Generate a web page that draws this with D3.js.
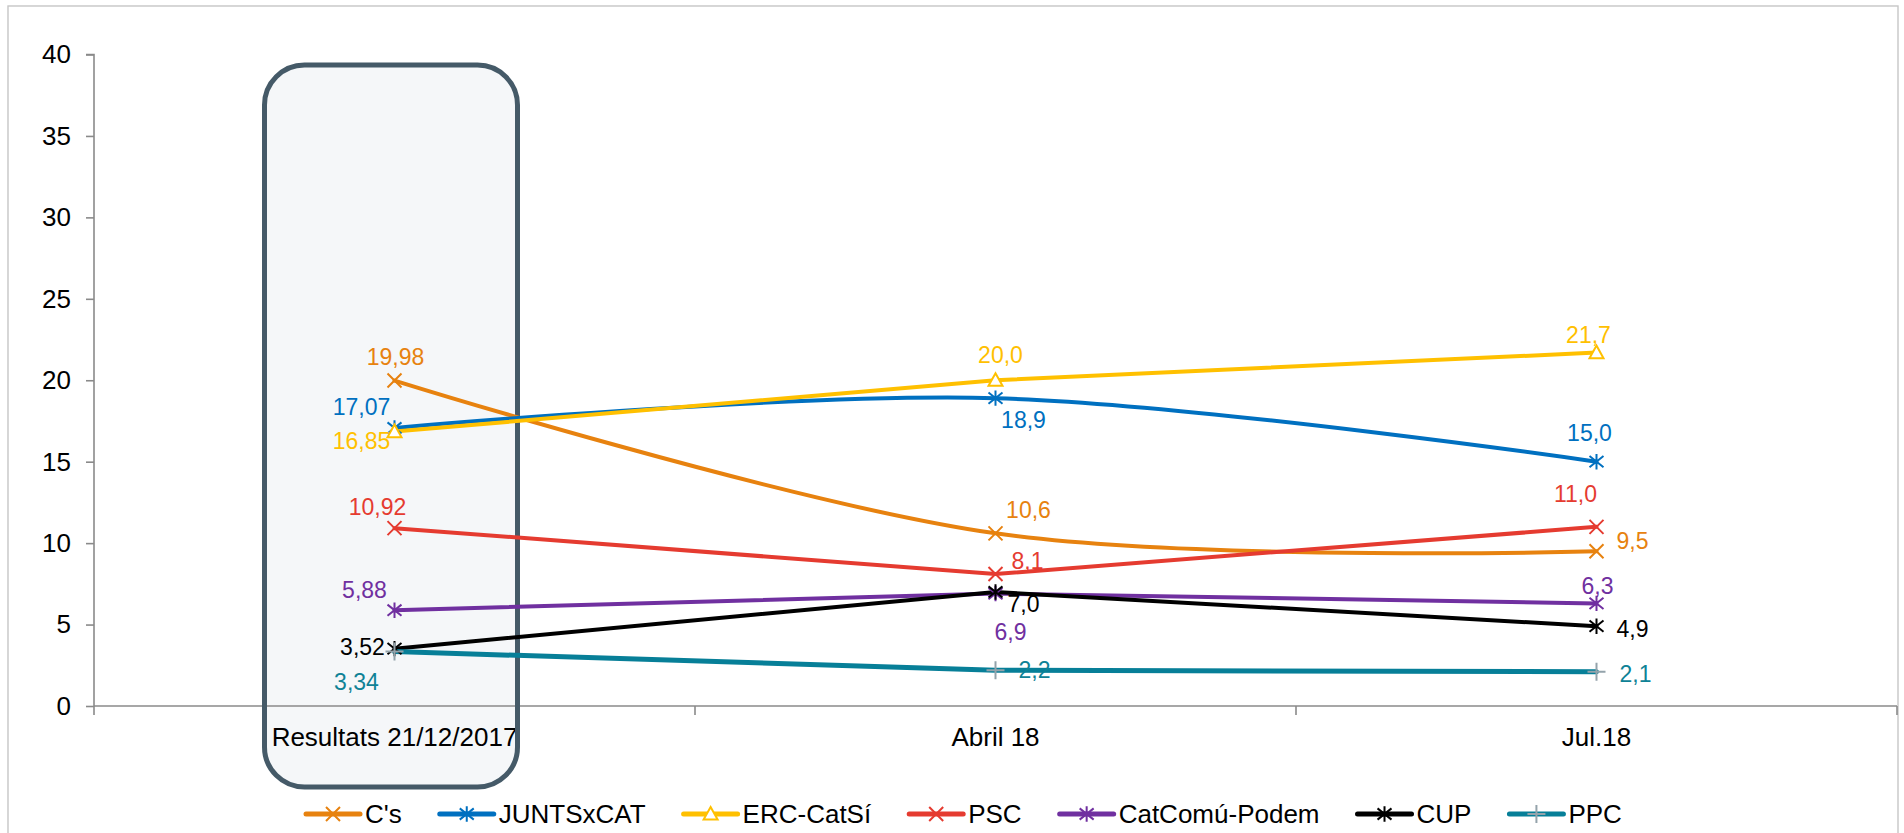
<!DOCTYPE html>
<html><head><meta charset="utf-8">
<script src="https://cdn.jsdelivr.net/npm/d3@7"></script>
<style>
body{margin:0;background:#fff;overflow:hidden;}
svg{display:block;font-family:"Liberation Sans",Arial,Helvetica,sans-serif;}
</style>
</head><body><svg id="chart" width="1904" height="833"></svg>
<script>
// ---------- DATA ----------
const categories = ["Resultats 21/12/2017", "Abril 18", "Jul.18"];
const seriesNames = ["C's", "JUNTSxCAT", "ERC-CatSí", "PSC", "CatComú-Podem", "CUP", "PPC"];
const csValues      = [19.98, 10.6, 9.5];
const juntsValues   = [17.07, 18.9, 15.0];
const ercValues     = [16.85, 20.0, 21.7];
const pscValues     = [10.92, 8.1, 11.0];
const catcomuValues = [5.88, 6.9, 6.3];
const cupValues     = [3.52, 7.0, 4.9];
const ppcValues     = [3.34, 2.2, 2.1];
const labelDecimals = [2, 1, 1];
const yTicks = [0, 5, 10, 15, 20, 25, 30, 35, 40];

// ---------- STYLES ----------
const seriesColors = ["#e7820f", "#0070c0", "#ffc000", "#e53b30", "#7030a0", "#000000", "#077f98"];
const labelColors  = ["#e7820f", "#0070c0", "#ffc000", "#e53b30", "#7030a0", "#000000", "#0f8296"];
const markerTypes  = ["x", "star", "triangle", "x", "star", "star", "plus"];
const markerColors = ["#e7820f", "#0070c0", "#ffc000", "#e53b30", "#7030a0", "#000000", "#94a3ab"];
const lineWidths   = [4, 4, 4, 4, 4, 4, 5];
const smoothFlags  = [true, true, false, false, false, false, false];
// label offsets [dx, dy] relative to each point (label centre)
const labelOffsets = [
  [[1, -24], [33, -23], [36, -10]],
  [[-33, -21], [28, 22], [-7, -29]],
  [[-33, 9], [5, -25], [-8, -18]],
  [[-17, -21], [32, -13], [-21, -33]],
  [[-30, -20], [15, 38], [1, -17]],
  [[-32, -2], [28, 12], [36, 3]],
  [[-38, 30], [39, 0], [39, 2]]
];

const allValues = [csValues, juntsValues, ercValues, pscValues, catcomuValues, cupValues, ppcValues];
const series = seriesNames.map((n, i) => ({name: n, values: allValues[i], i}));

const W = 1904, H = 833;
const plot = {left: 94, right: 1897, top: 54.5, bottom: 706};
const svg = d3.select("#chart");

// outer frame
svg.append("rect").attr("x", 8).attr("y", 6).attr("width", 1890).attr("height", 900)
  .attr("fill", "#fff").attr("stroke", "#c6c6c6").attr("stroke-width", 1.4);

const x = d3.scaleBand().domain(categories).range([plot.left, plot.right]).padding(0);
const xc = c => x(c) + x.bandwidth() / 2;
const y = d3.scaleLinear().domain([0, 40]).range([plot.bottom, plot.top]);

// highlight box (background fill)
const boxCx = xc(categories[0]);
const box = {x: boxCx - 130, y: 65, w: 253, h: 722, r: 40};
svg.append("rect").attr("x", box.x).attr("y", box.y).attr("width", box.w).attr("height", box.h)
  .attr("rx", box.r).attr("ry", box.r).attr("fill", "#f5f7f9");

// y axis
const yAxis = d3.axisLeft(y).tickValues(yTicks).tickSize(8).tickPadding(15).tickFormat(d3.format("d"));
const gy = svg.append("g").attr("transform", `translate(${plot.left},0)`).call(yAxis);
gy.select(".domain").attr("stroke", "#8a8a8a").attr("stroke-width", 1.6).attr("d", `M-8,${y(40)}H0V${y(0)}`);
gy.selectAll(".tick line").attr("stroke", "#8a8a8a").attr("stroke-width", 1.6);
gy.selectAll(".tick text").attr("fill", "#000").attr("font-size", 26).attr("font-family", "Liberation Sans, Arial, sans-serif");

// x axis
const xAxis = d3.axisBottom(x).tickSize(0).tickPadding(0).tickFormat(() => "");
const gx = svg.append("g").attr("transform", `translate(0,${plot.bottom})`).call(xAxis);
gx.select(".domain").attr("stroke", "#8a8a8a").attr("stroke-width", 1.6).attr("d", `M${plot.left},0H${plot.right}`);
gx.selectAll(".tick").remove();
const boundaries = categories.map(c => x(c)).concat([plot.right]);
gx.selectAll("line.bt").data(boundaries).enter().append("line").attr("class", "bt")
  .attr("x1", d => d).attr("x2", d => d).attr("y1", 0).attr("y2", 9)
  .attr("stroke", "#8a8a8a").attr("stroke-width", 1.6);
gx.selectAll("text.cat").data(categories).enter().append("text").attr("class", "cat")
  .attr("x", d => xc(d)).attr("y", 40).attr("text-anchor", "middle")
  .attr("font-size", 26).attr("fill", "#000").text(d => d);

// highlight box border
svg.append("rect").attr("x", box.x).attr("y", box.y).attr("width", box.w).attr("height", box.h)
  .attr("rx", box.r).attr("ry", box.r).attr("fill", "none").attr("stroke", "#455a68").attr("stroke-width", 5);

// lines
const gLines = svg.append("g");
series.forEach(s => {
  const line = d3.line().x((d, j) => xc(categories[j])).y(d => y(d))
    .curve(smoothFlags[s.i] ? d3.curveCardinal.tension(0) : d3.curveLinear);
  gLines.append("path").attr("d", line(s.values)).attr("fill", "none")
    .attr("stroke", seriesColors[s.i]).attr("stroke-width", lineWidths[s.i])
    .attr("stroke-linejoin", "round").attr("stroke-linecap", "round");
});

function drawMarker(g, type, cx, cy, color) {
  const r = 7;
  if (type === "x") {
    g.append("path").attr("d", `M${cx-r},${cy-r}L${cx+r},${cy+r}M${cx-r},${cy+r}L${cx+r},${cy-r}`)
      .attr("stroke", color).attr("stroke-width", 2).attr("fill", "none");
  } else if (type === "star") {
    g.append("path").attr("d", `M${cx-r},${cy-r*0.8}L${cx+r},${cy+r*0.8}M${cx-r},${cy+r*0.8}L${cx+r},${cy-r*0.8}M${cx},${cy-r*1.1}V${cy+r*1.1}`)
      .attr("stroke", color).attr("stroke-width", 2).attr("fill", "none");
  } else if (type === "triangle") {
    g.append("path").attr("d", `M${cx},${cy-r}L${cx+r},${cy+r*0.8}L${cx-r},${cy+r*0.8}Z`)
      .attr("stroke", color).attr("stroke-width", 2).attr("fill", "#fff");
  } else if (type === "plus") {
    g.append("path").attr("d", `M${cx-r-2},${cy}H${cx+r+2}M${cx},${cy-r-2}V${cy+r+2}`)
      .attr("stroke", color).attr("stroke-width", 2).attr("fill", "none");
  }
}

// markers
const gMarkers = svg.append("g");
series.forEach(s => {
  s.values.forEach((v, j) => drawMarker(gMarkers, markerTypes[s.i], xc(categories[j]), y(v), markerColors[s.i]));
});

// data labels
const gLabels = svg.append("g");
series.forEach(s => {
  s.values.forEach((v, j) => {
    const off = labelOffsets[s.i][j];
    gLabels.append("text")
      .attr("x", xc(categories[j]) + off[0]).attr("y", y(v) + off[1] + 8)
      .attr("text-anchor", "middle").attr("font-size", 23).attr("fill", labelColors[s.i])
      .text(v.toFixed(labelDecimals[j]).replace(".", ","));
  });
});

// legend
const gLeg = svg.append("g");
let lx = 306;
const ly = 814;
series.forEach(s => {
  gLeg.append("line").attr("x1", lx).attr("x2", lx + 54).attr("y1", ly).attr("y2", ly)
    .attr("stroke", seriesColors[s.i]).attr("stroke-width", 5).attr("stroke-linecap", "round");
  drawMarker(gLeg, markerTypes[s.i], lx + 27, ly, markerColors[s.i]);
  const t = gLeg.append("text").attr("x", lx + 59).attr("y", ly + 9).attr("font-size", 26).attr("fill", "#000").text(s.name);
  lx += 59 + t.node().getComputedTextLength() + 38;
});
</script>
</body></html>
